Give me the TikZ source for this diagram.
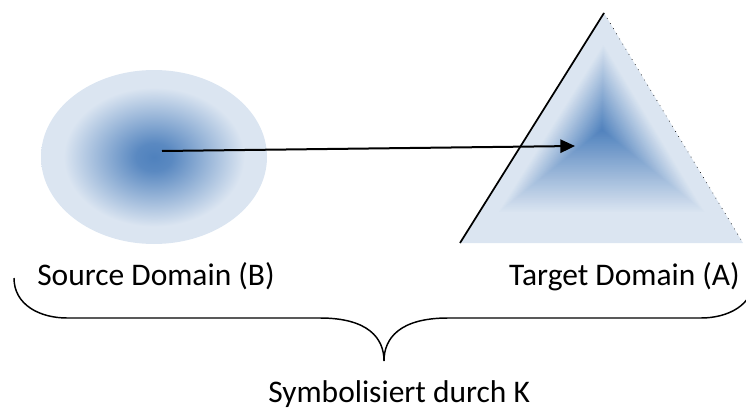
\documentclass[tikz,border=0pt]{standalone}
\usepackage{fontspec}
\setmainfont{Carlito}
\usetikzlibrary{shapes.geometric,calc,arrows.meta}
\definecolor{dkblue}{RGB}{79,129,189}
\definecolor{ltblue}{RGB}{219,229,241}
\pgfdeclareradialshading{ellshade}{\pgfpointorigin}{color(0bp)=(dkblue); color(4bp)=(dkblue!92!ltblue); color(20bp)=(ltblue); color(25bp)=(ltblue); color(50bp)=(ltblue)}
\tikzset{
  lbl/.style={font=\fontsize{23.6}{28}\selectfont, inner sep=0pt},
  conn/.style={line width=1.5pt, -{Triangle[length=11pt,width=10pt]}},
  bracepath/.style={line width=1.1pt}
}
\begin{document}
\begin{tikzpicture}[x=0.75pt,y=-0.75pt]
\useasboundingbox (0,0) rectangle (746,407);
% source ellipse
\node[ellipse, draw=none, inner sep=0pt, minimum width=169.5pt, minimum height=130.5pt, shading=ellshade] (src) at (154,157) {};
% target triangle
\coordinate (tA) at (604,13);
\coordinate (tB) at (460,243);
\coordinate (tD) at (743,243);
\coordinate (tC) at (602,130);
\fill[ltblue] (tA) -- (tB) -- (tD) -- cycle;
\foreach \i in {0,...,48} {
  \pgfmathsetmacro\s{0.74*(1-\i/48)}
  \pgfmathsetmacro\p{100*\i/48}
  \fill[dkblue!\p!ltblue] ($(tC)!\s!(tA)$) -- ($(tC)!\s!(tB)$) -- ($(tC)!\s!(tD)$) -- cycle;
}
\draw[line width=1.3pt] (tB) -- (tA);
\draw[line width=0.5pt, dash pattern=on 0.5pt off 4pt] (tA) -- (tD);
% arrow
\coordinate (srcpt) at (162,151);
\coordinate (tgtpt) at (575,146);
\draw[conn] (srcpt) -- (tgtpt);
% labels
\node[lbl, anchor=base west] (lsrc) at (37,285) {Source Domain (B)};
\node[lbl, anchor=base east] (ltgt) at (740,285) {Target Domain (A)};
\node[lbl, anchor=base west] (lk) at (268,402) {Symbolisiert durch K};
% brace
\coordinate (bl) at (14,278);
\coordinate (br) at (754,278);
\coordinate (btip) at (384,361);
\draw[bracepath] (bl) .. controls (14,305) and (40,318) .. (67,318) -- (320,318)
  .. controls (368,318) and (384,338) .. (btip)
  .. controls (384,338) and (400,318) .. (448,318) -- (701,318)
  .. controls (728,318) and (754,305) .. (br);
\end{tikzpicture}
\end{document}
